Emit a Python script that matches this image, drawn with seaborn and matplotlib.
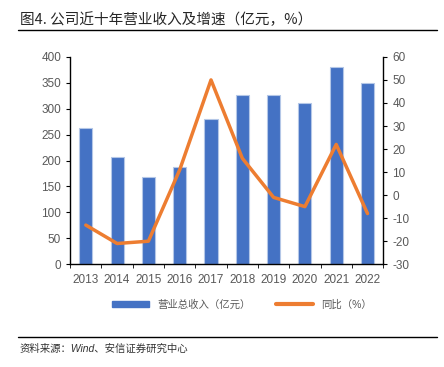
import seaborn as sns
import pandas as pd
import matplotlib.pyplot as plt
from matplotlib.lines import Line2D
from matplotlib.patches import Patch

years = ['2013', '2014', '2015', '2016', '2017', '2018', '2019', '2020', '2021', '2022']
revenue = [263, 207, 168, 187, 280, 327, 326, 311, 381, 350]
growth = [-13, -21, -20, 11, 50, 16, -1, -5, 22, -8]

df = pd.DataFrame({'year': years, 'revenue': revenue, 'growth': growth})

sns.set_style('white')
plt.rcParams['font.family'] = ['Liberation Sans', 'Noto Sans CJK SC']
plt.rcParams['axes.unicode_minus'] = False

fig = plt.figure(figsize=(4.44, 3.67), dpi=100)
ax = fig.add_axes([0.158, 0.28, 0.705, 0.565])

sns.barplot(data=df, x='year', y='revenue', color='#4472C4', width=0.42,
            edgecolor='#B4C7E7', linewidth=0.8, saturation=1, ax=ax)
ax.set_ylim(0, 400)
ax.set_yticks(range(0, 401, 50))
ax.set_xlim(-0.5, 9.5)
ax.set_xlabel('')
ax.set_ylabel('')

ax2 = ax.twinx()
ax2.plot(range(len(years)), growth, color='#ED7D31', linewidth=2.5)
ax2.set_ylim(-30, 60)
ax2.set_yticks(range(-30, 61, 10))

for a in (ax, ax2):
    for s in a.spines.values():
        s.set_visible(False)
    a.tick_params(labelsize=8.5, colors='#595959', length=3)
ax.spines['left'].set_visible(True)
ax.spines['bottom'].set_visible(True)
ax2.spines['right'].set_visible(True)
for s in (ax.spines['left'], ax.spines['bottom'], ax2.spines['right']):
    s.set_color('black')
    s.set_linewidth(1)
ax.tick_params(axis='y', left=True, color='black')
ax2.tick_params(axis='y', right=True, color='black')
ax.set_xticks([i - 0.5 for i in range(11)], minor=True)
ax.tick_params(axis='x', which='major', bottom=False, pad=4)
ax.tick_params(axis='x', which='minor', bottom=True, length=3, color='black')

fig.text(0.045, 0.945, '图4. 公司近十年营业收入及增速（亿元，%）', fontsize=10.5,
         color='#262626', ha='left', va='center',
         family=['Noto Sans CJK SC'], fontweight='medium')
fig.add_artist(Line2D([0.04, 0.985], [0.917, 0.917], color='black', linewidth=1))

handles = [Patch(facecolor='#4472C4', edgecolor='#4472C4'),
           Line2D([0], [0], color='#ED7D31', linewidth=3)]
fig.legend(handles, ['营业总收入（亿元）', '同比（%）'], loc='center',
           bbox_to_anchor=(0.545, 0.17), ncol=2, frameon=False, fontsize=7.5,
           handlelength=3.5, handleheight=0.5, columnspacing=2.5,
           labelcolor='#595959')

fig.add_artist(Line2D([0.04, 0.985], [0.083, 0.083], color='black', linewidth=1))
fig.text(0.045, 0.05, '资料来源：Wind、安信证券研究中心', fontsize=7.5, style='italic',
         color='#333333', ha='left', va='center')

fig.savefig('out.png', dpi=100)
